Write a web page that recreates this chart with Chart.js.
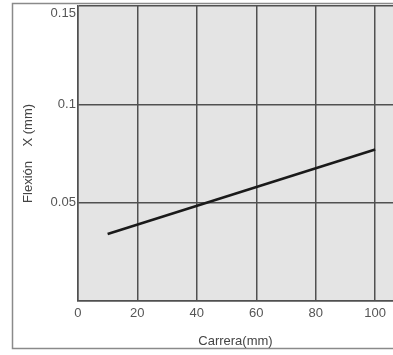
<!DOCTYPE html>
<html>
<head>
<meta charset="utf-8">
<script src="https://cdn.jsdelivr.net/npm/chart.js@4"></script>
<style>
  html, body { margin: 0; padding: 0; background: #fff; overflow: hidden; }
  #wrap { width: 393px; height: 355px; }
</style>
</head>
<body>
<div id="wrap"><canvas id="flexion"></canvas></div>
<script>
// valores
const carrera = [10, 100];
const flexion = [0.034, 0.077];
const ticksX = [0, 20, 40, 60, 80, 100];
const ticksY = [0, 0.05, 0.1, 0.15];

const gris = "#505050";

const fondoYMarco = {
  id: "fondoYMarco",
  beforeDraw: (chart) => {
    const { ctx, chartArea } = chart;
    ctx.save();
    ctx.fillStyle = "#e4e4e4";
    ctx.fillRect(chartArea.left, chartArea.top, chartArea.right - chartArea.left, chartArea.bottom - chartArea.top);
    // marco exterior
    ctx.strokeStyle = "#8a8a8a";
    ctx.lineWidth = 1.5;
    ctx.beginPath();
    ctx.moveTo(400, 3.5);
    ctx.lineTo(12.5, 3.5);
    ctx.lineTo(12.5, 348.5);
    ctx.lineTo(400, 348.5);
    ctx.stroke();
    ctx.restore();
  },
};

const ctx = document.getElementById("flexion").getContext("2d");
const grafico = new Chart(ctx, {
  type: "line",
  data: {
    datasets: [
      {
        data: carrera.map((x, i) => ({ x: x, y: flexion[i] })),
        borderColor: "#1a1a1a",
        borderWidth: 2.5,
        pointRadius: 0,
        tension: 0,
      },
    ],
  },
  plugins: [fondoYMarco],
  options: {
    responsive: true,
    maintainAspectRatio: false,
    animation: false,
    layout: { padding: { top: 0, left: 21, right: 0, bottom: 6 } },
    plugins: { legend: { display: false }, tooltip: { enabled: false } },
    scales: {
      x: {
        type: "linear",
        min: 0,
        max: 106,
        afterBuildTicks: (axis) => {
          axis.ticks = ticksX.map((v) => ({ value: v }));
        },
        grid: { color: gris, lineWidth: 1.5, drawTicks: false },
        border: { color: gris, width: 1.5 },
        ticks: {
          padding: 5,
          color: "#555",
          font: { family: "Liberation Sans", size: 13 },
          maxRotation: 0,
        },
        title: {
          display: true,
          text: "Carrera(mm)",
          color: "#444",
          font: { family: "Liberation Sans", size: 13 },
          padding: { top: 7, bottom: 0 },
        },
      },
      y: {
        min: 0,
        max: 0.15,
        afterBuildTicks: (axis) => {
          axis.ticks = ticksY.map((v) => ({ value: v }));
        },
        afterFit: (axis) => {
          axis.paddingTop = 6;
        },
        grid: { color: gris, lineWidth: 1.5, drawTicks: false },
        border: { color: gris, width: 1.5 },
        ticks: {
          padding: 2,
          color: "#555",
          font: { family: "Liberation Sans", size: 13 },
          callback: (v) => {
            if (v === 0) return "";
            // la etiqueta superior queda algo por debajo de su linea
            if (v === 0.15) return ["", "0.15"];
            return String(v);
          },
        },
        title: {
          display: true,
          text: "Flexión    X (mm)",
          color: "#444",
          font: { family: "Liberation Sans", size: 13 },
          padding: { top: 0, bottom: 12 },
        },
      },
    },
  },
});
</script>
</body>
</html>
